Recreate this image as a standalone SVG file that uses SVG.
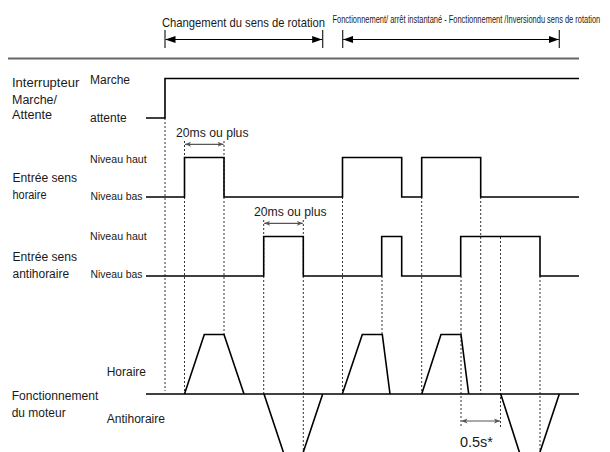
<svg xmlns="http://www.w3.org/2000/svg" width="610" height="452" viewBox="0 0 610 452">
<style>
text{font-family:"Liberation Sans",Arial,Helvetica,sans-serif;fill:#1a1a1a}
.lbl{font-size:12.5px}
.lvl{font-size:11px}
.sig{fill:none;stroke:#000;stroke-width:1.6;stroke-linejoin:miter}
.dot{stroke:#333;stroke-width:1;stroke-dasharray:2 2;fill:none}
.tick{stroke:#222;stroke-width:1.2}
.brk{stroke:#000;stroke-width:1.2;marker-start:url(#ah);marker-end:url(#ah)}
.dim{stroke:#555;stroke-width:1.2;marker-start:url(#as);marker-end:url(#as)}
</style>
<defs>
<marker id="ah" viewBox="0 0 10 7" refX="10" refY="3.5" markerWidth="10" markerHeight="7" markerUnits="userSpaceOnUse" orient="auto-start-reverse"><path d="M0,0 L10,3.5 L0,7 z" fill="#000"/></marker>
<marker id="as" viewBox="0 0 6 6" refX="6" refY="3" markerWidth="6" markerHeight="6" markerUnits="userSpaceOnUse" orient="auto-start-reverse"><path d="M0,0.5 L6,3 L0,5.5 L1.6,3 z" fill="#555"/></marker>
</defs>
<rect width="610" height="452" fill="#fff"/>

<g id="header">
<text x="162" y="26.5" font-size="13" textLength="163" lengthAdjust="spacingAndGlyphs">Changement du sens de rotation</text>
<text transform="translate(332.5,22.5) scale(0.68,1)" x="0" y="0" font-size="11">Fonctionnement/ arrêt instantané - Fonctionnement /Inversiondu sens de rotation</text>
<line class="tick" x1="165" y1="30" x2="165" y2="48"/>
<line class="tick" x1="322.7" y1="30" x2="322.7" y2="48"/>
<line class="brk" x1="165.5" y1="39.5" x2="322.2" y2="39.5"/>
<line class="tick" x1="342.7" y1="30" x2="342.7" y2="48"/>
<line class="tick" x1="559.3" y1="30" x2="559.3" y2="48"/>
<line class="brk" x1="343.2" y1="39.5" x2="558.8" y2="39.5"/>
<line x1="8" y1="58.5" x2="579" y2="58.5" stroke="#666" stroke-width="2"/>
</g>

<g id="labels">
<text class="lbl" x="12" y="87.3" textLength="67.3" lengthAdjust="spacingAndGlyphs">Interrupteur</text>
<text class="lbl" x="12" y="104" textLength="45" lengthAdjust="spacingAndGlyphs">Marche/</text>
<text class="lbl" x="12" y="119" textLength="40" lengthAdjust="spacingAndGlyphs">Attente</text>
<text class="lbl" x="90" y="84.3" textLength="40" lengthAdjust="spacingAndGlyphs">Marche</text>
<text class="lbl" x="90" y="122.3" textLength="36.7" lengthAdjust="spacingAndGlyphs">attente</text>
<text class="lbl" x="12.5" y="181.7" textLength="64.6" lengthAdjust="spacingAndGlyphs">Entrée sens</text>
<text class="lbl" x="12.5" y="198.5" textLength="34" lengthAdjust="spacingAndGlyphs">horaire</text>
<text class="lvl" x="90" y="163.3" textLength="56.7" lengthAdjust="spacingAndGlyphs">Niveau haut</text>
<text class="lvl" x="90.5" y="199.5" textLength="52" lengthAdjust="spacingAndGlyphs">Niveau bas</text>
<text class="lbl" x="12.5" y="261" textLength="64.6" lengthAdjust="spacingAndGlyphs">Entrée sens</text>
<text class="lbl" x="12.5" y="277.7" textLength="56.6" lengthAdjust="spacingAndGlyphs">antihoraire</text>
<text class="lvl" x="90" y="240" textLength="56.7" lengthAdjust="spacingAndGlyphs">Niveau haut</text>
<text class="lvl" x="90.5" y="277.7" textLength="52" lengthAdjust="spacingAndGlyphs">Niveau bas</text>
<text class="lbl" x="11.7" y="400" textLength="86.7" lengthAdjust="spacingAndGlyphs">Fonctionnement</text>
<text class="lbl" x="11.7" y="416.7" textLength="54" lengthAdjust="spacingAndGlyphs">du moteur</text>
<text class="lbl" x="106.7" y="375.7" textLength="39.3" lengthAdjust="spacingAndGlyphs">Horaire</text>
<text class="lbl" x="106.7" y="423.3" textLength="58.3" lengthAdjust="spacingAndGlyphs">Antihoraire</text>
</g>

<g id="guides">
<line class="dot" x1="165" y1="118" x2="165" y2="391"/>
<line class="dot" x1="184.5" y1="141" x2="184.5" y2="394"/>
<line class="dot" x1="224" y1="141" x2="224" y2="335"/>
<line class="dot" x1="263.7" y1="220" x2="263.7" y2="394"/>
<line class="dot" x1="303.3" y1="220" x2="303.3" y2="452"/>
<line class="dot" x1="342.5" y1="197" x2="342.5" y2="394"/>
<line class="dot" x1="382" y1="276" x2="382" y2="335"/>
<line class="dot" x1="421.7" y1="197" x2="421.7" y2="394"/>
<line class="dot" x1="461" y1="276" x2="461" y2="428"/>
<line class="dot" x1="480.7" y1="197" x2="480.7" y2="394"/>
<line class="dot" x1="500.5" y1="237" x2="500.5" y2="429"/>
<line class="dot" x1="540" y1="276" x2="540" y2="452"/>
</g>

<g id="switch-signal">
<polyline class="sig" points="146,118 165,118 165,78.5 579,78.5"/>
</g>

<g id="cw-signal">
<polyline class="sig" points="146,197 184.5,197 184.5,157.5 224,157.5 224,197 342.5,197 342.5,157.5 401.7,157.5 401.7,197 421.7,197 421.7,157.5 480.7,157.5 480.7,197 579,197"/>
<line class="dim" x1="185" y1="144.3" x2="223.5" y2="144.3"/>
<text x="176" y="137" font-size="12" textLength="72.5" lengthAdjust="spacingAndGlyphs">20ms ou plus</text>
</g>

<g id="ccw-signal">
<polyline class="sig" points="146,276 263.7,276 263.7,236.5 303.3,236.5 303.3,276 381.7,276 381.7,236.5 401.7,236.5 401.7,276 460.7,276 460.7,236.5 540,236.5 540,276 579,276"/>
<line class="dim" x1="264.2" y1="223.3" x2="302.8" y2="223.3"/>
<text x="254" y="216" font-size="12" textLength="72.7" lengthAdjust="spacingAndGlyphs">20ms ou plus</text>
</g>

<g id="motor">
<line x1="146" y1="394" x2="579" y2="394" stroke="#000" stroke-width="1.6"/>
<polyline class="sig" points="184.5,394 204.3,334.5 224,334.5 244,394"/>
<polyline class="sig" points="264,394 284.3,455 302.3,455 322.7,394"/>
<polyline class="sig" points="342.3,394 362.3,334.5 382.3,334.5 390,394"/>
<polyline class="sig" points="421.7,394 441,334.5 461,334.5 468.7,394"/>
<polyline class="sig" points="500.7,394 520.3,455 539,455 559.3,394"/>
<line class="dim" x1="461.5" y1="421" x2="500" y2="421"/>
<text x="460" y="446.7" font-size="14.5" textLength="33" lengthAdjust="spacingAndGlyphs">0.5s*</text>
</g>
</svg>
